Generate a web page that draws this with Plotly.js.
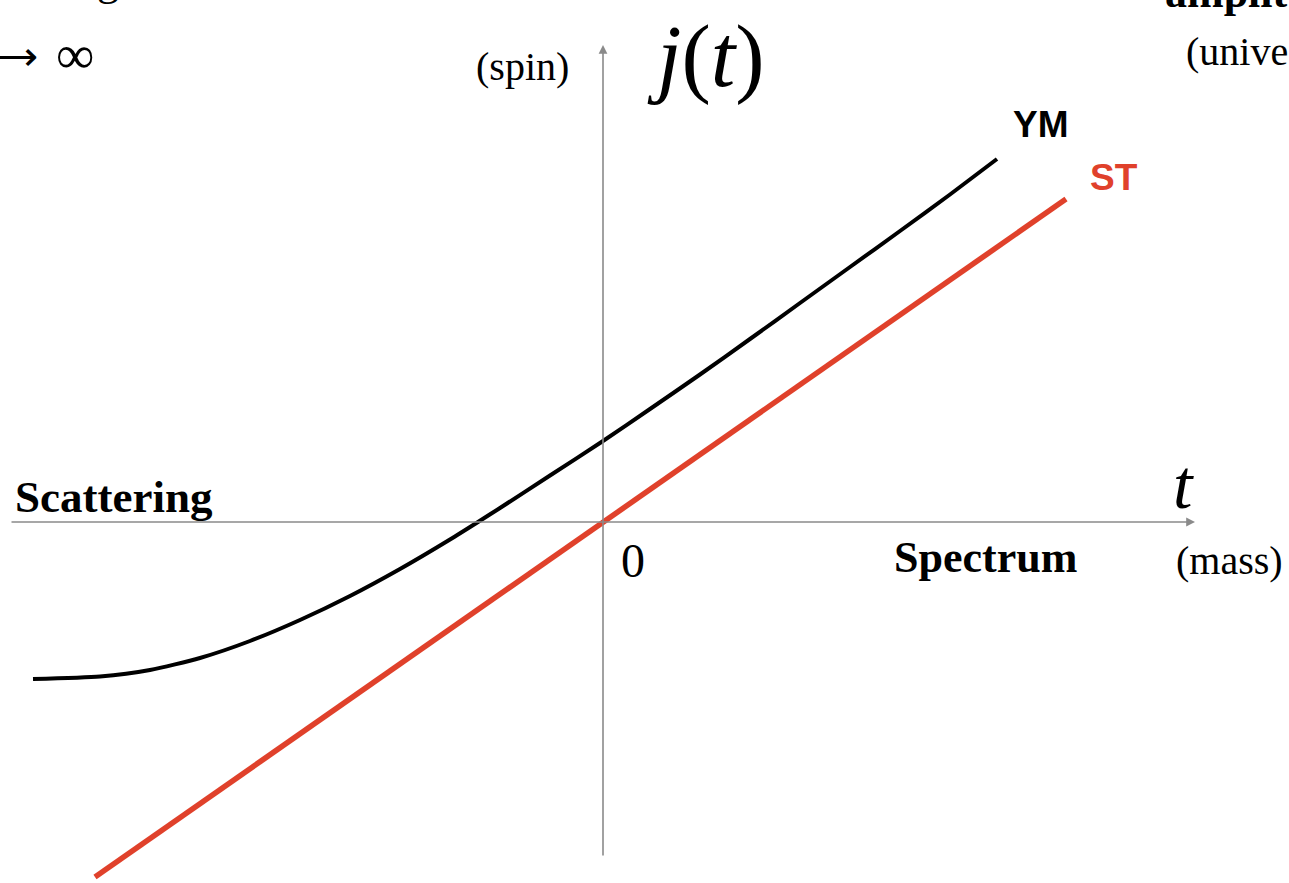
<!DOCTYPE html>
<html>
<head>
<meta charset="utf-8">
<script src="https://cdn.plot.ly/plotly-3.0.1.min.js"></script>
<style>html,body{margin:0;padding:0;background:#fff;}#chart{width:1289px;height:883px;}</style>
</head>
<body>
<div id="chart"></div>
<script>
// Yang–Mills (YM) Regge trajectory j(t)
const ymT = [-5.70, -5.03, -4.53, -4.03, -3.53, -3.03, -2.53, -2.03, -1.53, -1.25, -1.03, -0.53, 0.00, 0.47, 0.97, 1.47, 1.97, 2.47, 2.97, 3.47, 3.94];
const ymJ = [-1.57, -1.545, -1.48, -1.36, -1.19, -0.98, -0.74, -0.47, -0.175, 0.00, 0.14, 0.465, 0.81, 1.13, 1.475, 1.83, 2.19, 2.55, 2.91, 3.275, 3.63];
// String theory (ST) linear trajectory
const stT = [-5.08, 0.00, 4.63];
const stJ = [-3.55, 0.00, 3.23];
// axis extents
const tAxis = [-5.93, 5.92];
const jAxis = [-3.35, 4.77];

const W = 1289, H = 883, OX = 603, OY = 522, S = 100;
const X = px => (px - OX) / S;
const Y = py => (OY - py) / S;

const serif = 'Liberation Serif, Times New Roman, serif';
const sans = 'Liberation Sans, Arial, sans-serif';
const axisColor = '#8a8a8a';

const traces = [
  {x: ymT, y: ymJ, mode: 'lines', line: {color: '#000', width: 4, shape: 'spline', smoothing: 0.6}, hoverinfo: 'skip', name: 'YM'},
  {x: stT, y: stJ, mode: 'lines', line: {color: '#e0412b', width: 5.5}, hoverinfo: 'skip', name: 'ST'}
];

// labels positioned in page pixels (paper coordinates)
function txt(text, px, py, size, opts) {
  return Object.assign({
    text: text, x: px / W, y: 1 - py / H, xref: 'paper', yref: 'paper', showarrow: false,
    xanchor: 'center', yanchor: 'middle',
    font: {family: serif, size: size, color: '#000'}
  }, opts || {});
}

const annotations = [
  // axes with arrowheads
  {x: tAxis[1], y: 0, ax: tAxis[0], ay: 0, axref: 'x', ayref: 'y', xref: 'x', yref: 'y', text: '', showarrow: true,
   arrowhead: 2, arrowsize: 1.1, arrowwidth: 1.6, arrowcolor: axisColor, standoff: 0, startstandoff: 0},
  {x: 0, y: jAxis[1], ax: 0, ay: jAxis[0], axref: 'x', ayref: 'y', xref: 'x', yref: 'y', text: '', showarrow: true,
   arrowhead: 2, arrowsize: 1.1, arrowwidth: 1.6, arrowcolor: axisColor, standoff: 0, startstandoff: 0},
  txt('<i>j</i>(<i>t</i>)', 706, 56, 88),
  txt('(spin)', 522, 66, 40),
  txt('<i>t</i>', 1183, 484, 70),
  txt('0', 633, 560, 48),
  txt('<b>Scattering</b>', 13, 497, 45, {xanchor: 'left'}),
  txt('<b>Spectrum</b>', 985, 557, 44),
  txt('(mass)', 1229, 560, 40),
  txt('<b>YM</b>', 1041, 125, 37, {font: {family: sans, size: 37, color: '#000'}}),
  txt('<b>ST</b>', 1114, 177, 37, {font: {family: sans, size: 37, color: '#e0412b'}}),
  txt('⟶', 40, 56, 42, {xanchor: 'right'}),
  txt('∞', 75, 55, 54),
  txt('g', 108, -19, 44),
  txt('<b>amplitu</b>', 1163, -7, 44, {xanchor: 'left'}),
  txt('(unive', 1290, 52, 40, {xanchor: 'right'})
];

const layout = {
  width: W, height: H,
  margin: {l: 0, r: 0, t: 0, b: 0},
  paper_bgcolor: '#fff', plot_bgcolor: '#fff',
  showlegend: false,
  xaxis: {range: [X(0), X(W)], visible: false, fixedrange: true},
  yaxis: {range: [Y(H), Y(0)], visible: false, fixedrange: true},
  annotations: annotations
};

Plotly.newPlot('chart', traces, layout, {displayModeBar: false, staticPlot: true});
</script>
</body>
</html>
